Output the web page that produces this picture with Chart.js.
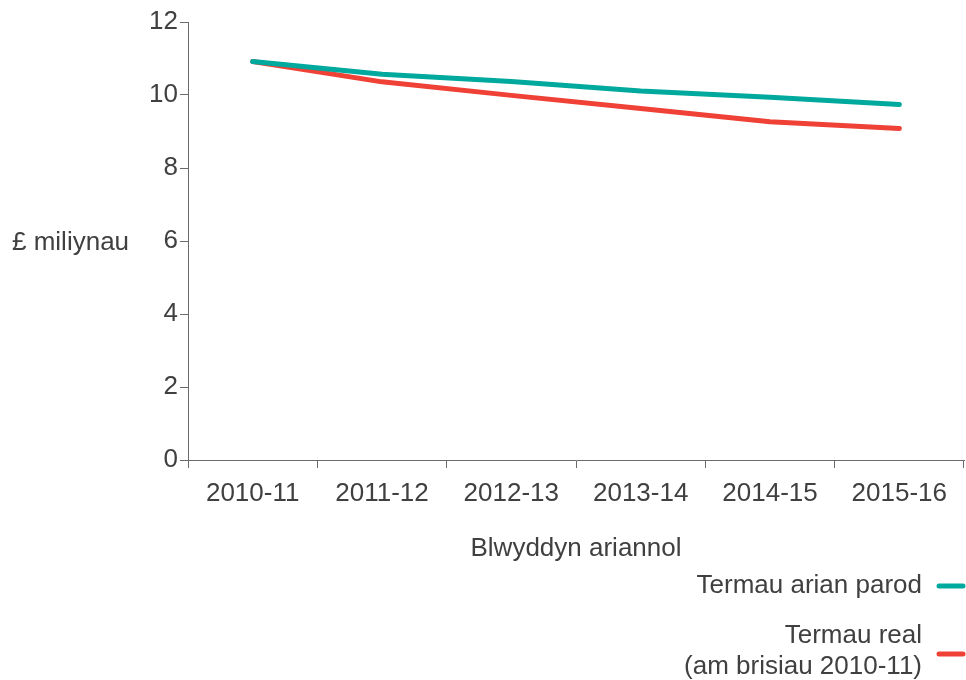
<!DOCTYPE html>
<html>
<head>
<meta charset="utf-8">
<script src="https://cdn.jsdelivr.net/npm/chart.js@4/dist/chart.umd.min.js"></script>
<style>
  html, body { margin: 0; padding: 0; background: #ffffff; }
  #wrap { width: 966px; height: 680px; position: relative; }
</style>
</head>
<body>
<div id="wrap"><canvas id="c" width="966" height="680"></canvas></div>
<script>
const categories = ["2010-11", "2011-12", "2012-13", "2013-14", "2014-15", "2015-16"];
const cashTerms = [10.92, 10.57, 10.37, 10.11, 9.94, 9.74];
const realTerms = [10.92, 10.36, 9.99, 9.63, 9.27, 9.08];
const seriesLabels = [["Termau arian parod"], ["Termau real", "(am brisiau 2010-11)"]];
const yTitle = "£ miliynau";
const xTitle = "Blwyddyn ariannol";

const TEXT = "#404040";
const AXIS = "#6b6b6b";
const FONT = "Liberation Sans, Arial, Helvetica, sans-serif";
const COLORS = ["#00a99d", "#ef4136"];

const customText = {
  id: "customText",
  afterDraw(chart) {
    const ctx = chart.ctx;
    const area = chart.chartArea;
    const y = chart.scales.y;
    ctx.save();
    ctx.fillStyle = TEXT;
    ctx.font = "26px " + FONT;
    // y title
    ctx.textAlign = "left";
    ctx.textBaseline = "middle";
    ctx.fillText(yTitle, 12, y.getPixelForValue(6) + 2);
    // x title
    ctx.textAlign = "center";
    ctx.fillText(xTitle, (area.left + area.right) / 2, 549);
    // legend
    const entries = [
      { lines: seriesLabels[0], y: 586, lineY: 586 },
      { lines: seriesLabels[1], y: 636, lineY: 654 }
    ];
    entries.forEach((e, i) => {
      ctx.textAlign = "right";
      ctx.fillStyle = TEXT;
      e.lines.forEach((t, k) => ctx.fillText(t, 922, e.y + k * 31));
      ctx.strokeStyle = chart.data.datasets[i].borderColor;
      ctx.lineWidth = 5;
      ctx.lineCap = "round";
      ctx.beginPath();
      ctx.moveTo(939, e.lineY);
      ctx.lineTo(963, e.lineY);
      ctx.stroke();
    });
    ctx.restore();
  }
};

new Chart(document.getElementById("c"), {
  type: "line",
  data: {
    labels: categories,
    datasets: [
      { label: seriesLabels[0].join(" "), data: cashTerms, borderColor: COLORS[0], backgroundColor: COLORS[0] },
      { label: seriesLabels[1].join(" "), data: realTerms, borderColor: COLORS[1], backgroundColor: COLORS[1] }
    ]
  },
  options: {
    responsive: false,
    animation: false,
    devicePixelRatio: 1,
    layout: { padding: { left: 128, right: 2, top: 22, bottom: 100 } },
    elements: {
      line: { borderWidth: 5, tension: 0, borderCapStyle: "round", borderJoinStyle: "round" },
      point: { radius: 0, hoverRadius: 0 }
    },
    plugins: { legend: { display: false }, tooltip: { enabled: false } },
    scales: {
      x: {
        offset: true,
        afterFit(s) { s.height = 120; },
        border: { color: AXIS, width: 1 },
        grid: { offset: true, drawOnChartArea: false, drawTicks: true, tickLength: 8, color: AXIS },
        ticks: { color: TEXT, font: { family: FONT, size: 26 }, padding: 10, maxRotation: 0, autoSkip: false }
      },
      y: {
        min: 0, max: 12,
        afterFit(s) { s.width = 60; },
        border: { color: AXIS, width: 1 },
        grid: { drawOnChartArea: false, drawTicks: true, tickLength: 8, color: AXIS },
        ticks: { stepSize: 2, color: TEXT, font: { family: FONT, size: 26 }, padding: 2 }
      }
    }
  },
  plugins: [customText]
});
</script>
</body>
</html>
